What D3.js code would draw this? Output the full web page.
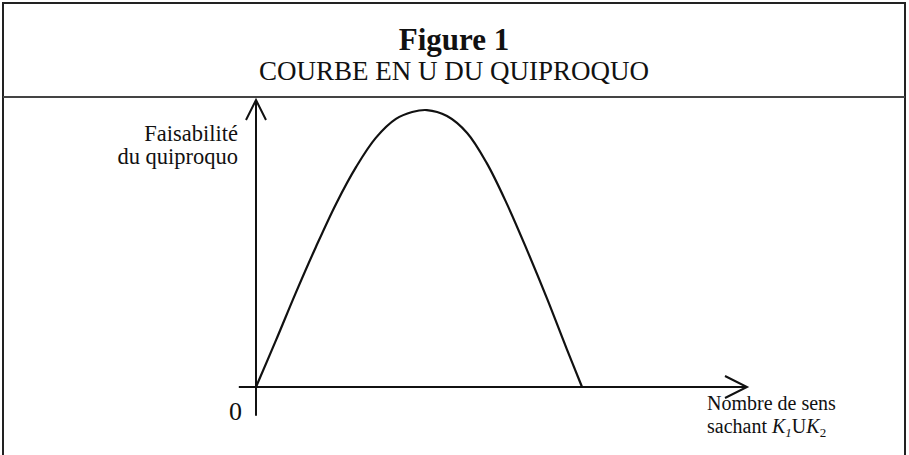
<!DOCTYPE html>
<html>
<head>
<meta charset="utf-8">
<script src="https://cdn.jsdelivr.net/npm/d3@7"></script>
<style>
  body { margin: 0; background: #fff; }
  text { font-family: "Liberation Serif", "Times New Roman", serif; fill: #111; }
</style>
</head>
<body>
<div id="chart-area"></div>
<script>
const SVG_WIDTH = 909;
const SVG_HEIGHT = 455;

// curve (x: nombre de sens, y: faisabilité, arbitrary units)
const senses = [0, 0.41, 0.81, 1.22, 1.63, 2.04, 2.44, 2.85, 3.18, 3.48, 3.89, 4.30, 4.70, 5.11, 5.52, 5.93, 6.33, 6.64];
const feasibility = [0, 1.64, 3.28, 4.88, 6.38, 7.67, 8.68, 9.34, 9.58, 9.65, 9.44, 8.85, 7.80, 6.38, 4.77, 3.07, 1.32, 0];

const titleLines = ["Figure 1", "COURBE EN U DU QUIPROQUO"];
const yLabelLines = ["Faisabilité", "du quiproquo"];
const xLabelLines = ["Nombre de sens", "sachant"];
const originLabel = "0";

const svg = d3.select("#chart-area").append("svg").attr("width", SVG_WIDTH).attr("height", SVG_HEIGHT);

// frame
svg.append("path").attr("d", "M3,455 L3,3 L905,3 L905,455").attr("fill", "none").attr("stroke", "#222").attr("stroke-width", 2);
svg.append("line").attr("x1", 3).attr("x2", 905).attr("y1", 97).attr("y2", 97).attr("stroke", "#444").attr("stroke-width", 2);

svg.append("text").attr("x", 454).attr("y", 50).attr("text-anchor", "middle").attr("font-size", "31px").attr("font-weight", "bold").text(titleLines[0]);
svg.append("text").attr("x", 454).attr("y", 80).attr("text-anchor", "middle").attr("font-size", "27px").text(titleLines[1]);

var x = d3.scaleLinear().domain([0, 10]).range([256, 747]);
var y = d3.scaleLinear().domain([0, 10]).range([387, 100]);

const axis = svg.append("g").attr("stroke", "#111").attr("stroke-width", 2).attr("fill", "none");
// y axis with open arrow
axis.append("line").attr("x1", x(0)).attr("x2", x(0)).attr("y1", y(-1)).attr("y2", y(10));
axis.append("path").attr("d", `M${x(0) - 10},${y(10) + 20} L${x(0)},${y(10)} L${x(0) + 10},${y(10) + 20}`);
// x axis with open arrow
axis.append("line").attr("x1", x(-0.35)).attr("x2", x(10)).attr("y1", y(0)).attr("y2", y(0));
axis.append("path").attr("d", `M${x(10) - 22},${y(0) - 11} L${x(10)},${y(0)} L${x(10) - 22},${y(0) + 11}`);

const points = senses.map((s, i) => [s, feasibility[i]]);
const line = d3.line().x(d => x(d[0])).y(d => y(d[1])).curve(d3.curveCatmullRom.alpha(0.5));
svg.append("path").attr("d", line(points)).attr("fill", "none").attr("stroke", "#111").attr("stroke-width", 2.2);

// labels
svg.append("text").attr("x", 242).attr("y", 420).attr("text-anchor", "end").attr("font-size", "26px").text(originLabel);

const yl = svg.append("text").attr("text-anchor", "end").attr("font-size", "22.5px");
yLabelLines.forEach((t, i) => {
  yl.append("tspan").attr("x", 238).attr("y", 141 + i * 23).text(t);
});

const xl = svg.append("text").attr("font-size", "20px");
xl.append("tspan").attr("x", 707).attr("y", 410).text(xLabelLines[0]);
const l2 = svg.append("text").attr("x", 707).attr("y", 433).attr("font-size", "20px");
l2.append("tspan").text(xLabelLines[1] + " ");
l2.append("tspan").attr("font-style", "italic").text("K");
l2.append("tspan").attr("font-style", "italic").attr("font-size", "13px").attr("dy", 4).text("1");
l2.append("tspan").attr("dy", -4).text("U");
l2.append("tspan").attr("font-style", "italic").text("K");
l2.append("tspan").attr("font-size", "13px").attr("dy", 4).text("2");
</script>
</body>
</html>
